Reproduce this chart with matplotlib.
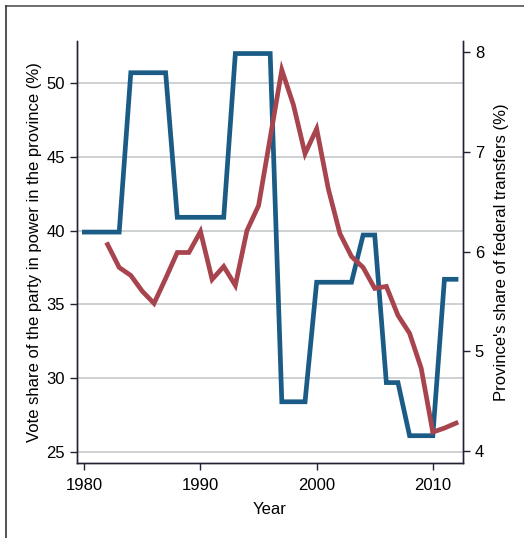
import numpy as np
import matplotlib.pyplot as plt
from matplotlib.lines import Line2D

plt.rcParams['font.family'] = ['Liberation Sans', 'DejaVu Sans']

# ===== données =====
years = np.arange(1980, 2013)
vote = [39.9, 39.9, 39.9, 39.9, 50.7, 50.7, 50.7, 50.7, 40.9, 40.9,
        40.9, 40.9, 40.9, 52.0, 52.0, 52.0, 52.0, 28.4, 28.4, 28.4,
        36.5, 36.5, 36.5, 36.5, 39.7, 39.7, 29.7, 29.7, 26.1, 26.1,
        26.1, 36.7, 36.7]

years_tr = np.arange(1982, 2013)
transfers = [6.07, 5.84, 5.76, 5.60, 5.48, 5.73, 5.99, 5.99, 6.20, 5.72,
             5.85, 5.66, 6.21, 6.46, 7.14, 7.82, 7.47, 6.98, 7.23, 6.63,
             6.18, 5.95, 5.84, 5.63, 5.65, 5.36, 5.18, 4.83, 4.19, 4.23,
             4.28]

left_ticks = [25, 30, 35, 40, 45, 50]
right_ticks = [4, 5, 6, 7, 8]
x_ticks = [1980, 1990, 2000, 2010]

blue = '#1b5c87'
red = '#a7444e'

fig = plt.figure(figsize=(5.24, 5.38), dpi=100)
ax = fig.add_axes([0.147, 0.1394, 0.7366, 0.7844])
ax2 = ax.twinx()

ax.plot(years, vote, color=blue, lw=3.4, zorder=3, solid_joinstyle='miter')
ax2.plot(years_tr, transfers, color=red, lw=3.4, zorder=3, solid_joinstyle='miter')

ax.set_xlim(1979.37, 2012.6)
ax.set_ylim(24.25, 52.85)
ax2.set_ylim(3.88, 8.11)

ax.set_yticks(left_ticks)
ax2.set_yticks(right_ticks)
ax.set_xticks(x_ticks)

ax.grid(axis='y', color='#c5caca', lw=1.2)
ax.set_axisbelow(True)

for a in (ax, ax2):
    a.spines['top'].set_visible(False)
    for s in ('left', 'right', 'bottom'):
        a.spines[s].set_color('#222233')
        a.spines[s].set_linewidth(1.0)
    a.tick_params(labelsize=12, length=5, width=1, color='#222233', direction='out')
ax.tick_params(axis='x', pad=6)

ax.set_xlabel('Year', fontsize=12, labelpad=6)
ax.set_ylabel('Vote share of the party in power in the province (%)', fontsize=12, labelpad=3)
ax2.set_ylabel("Province's share of federal transfers (%)", fontsize=12, labelpad=7)

# cadre de la figure
fig.add_artist(Line2D([0.0124, 1.0], [0.988, 0.988], color='#555555', lw=1.2))
fig.add_artist(Line2D([0.0124, 0.0124], [0.0, 0.988], color='#333333', lw=1.2))

fig.savefig('out.png', dpi=100)
